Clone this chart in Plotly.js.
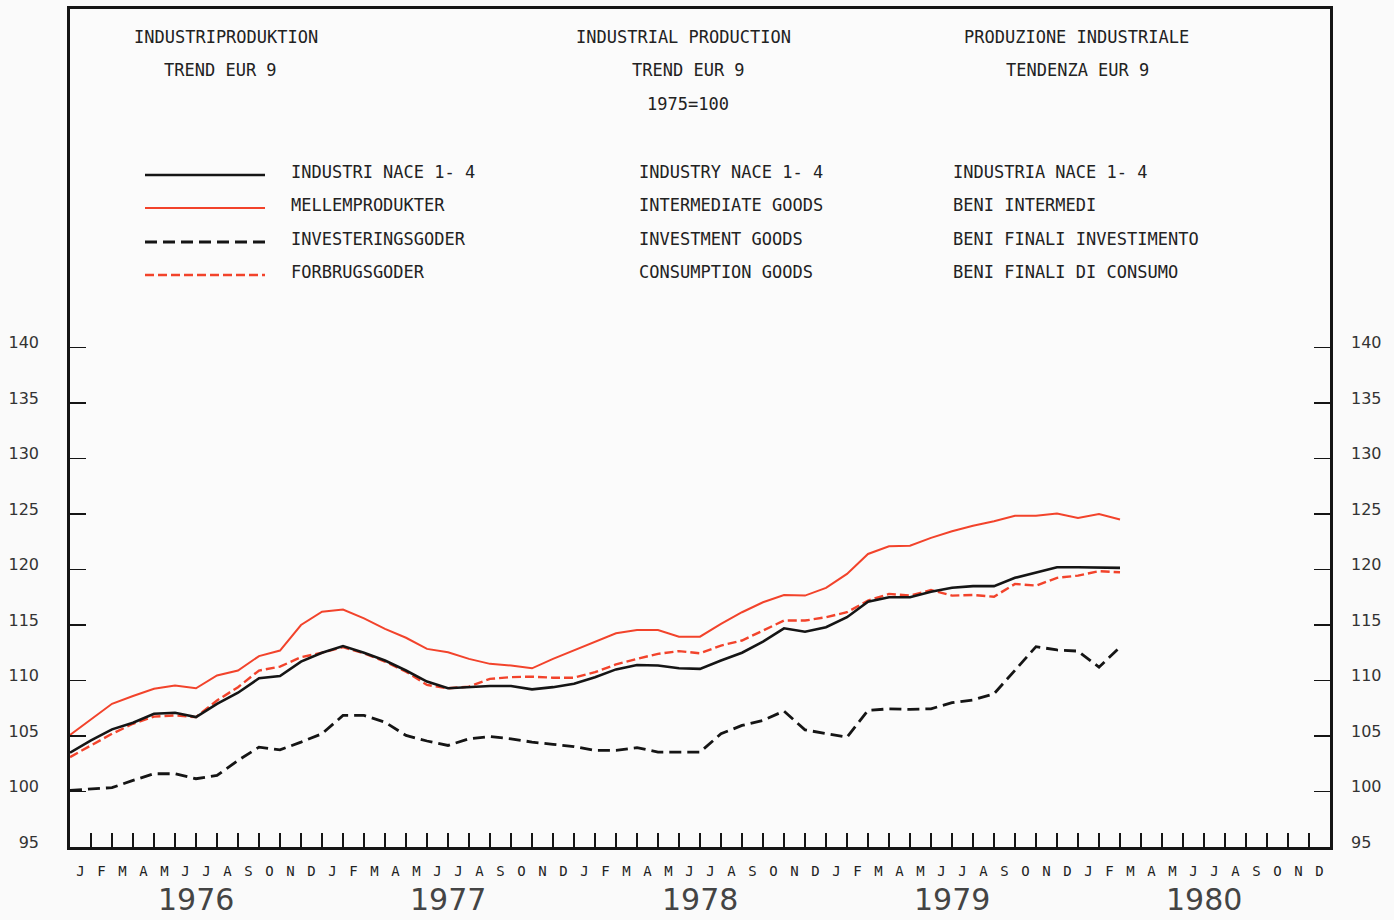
<!DOCTYPE html>
<html>
<head>
<meta charset="utf-8">
<script src="https://cdn.plot.ly/plotly-3.0.1.min.js"></script>
<style>
  html, body { margin: 0; padding: 0; background: #fafafa; }
  #chart { width: 1394px; height: 920px; }
</style>
</head>
<body>
<div id="chart"></div>
<script>
// ---------- DATA ----------
const periods = [
  '1976-01','1976-02','1976-03','1976-04','1976-05','1976-06','1976-07','1976-08','1976-09','1976-10','1976-11','1976-12',
  '1977-01','1977-02','1977-03','1977-04','1977-05','1977-06','1977-07','1977-08','1977-09','1977-10','1977-11','1977-12',
  '1978-01','1978-02','1978-03','1978-04','1978-05','1978-06','1978-07','1978-08','1978-09','1978-10','1978-11','1978-12',
  '1979-01','1979-02','1979-03','1979-04','1979-05','1979-06','1979-07','1979-08','1979-09','1979-10','1979-11','1979-12',
  '1980-01','1980-02','1980-03'
];
const industry = [103.5,104.6,105.6,106.2,107.0,107.1,106.7,107.9,108.9,110.2,110.4,111.7,
  112.5,113.1,112.5,111.8,110.9,109.9,109.3,109.4,109.5,109.5,109.2,109.4,
  109.7,110.3,111.0,111.4,111.35,111.1,111.05,111.8,112.5,113.5,114.7,114.4,
  114.8,115.7,117.1,117.5,117.5,118.0,118.35,118.5,118.5,119.25,119.75,120.2,
  120.2,120.2,120.15];
const intermediate = [105.1,106.5,107.9,108.6,109.25,109.55,109.3,110.45,110.9,112.2,112.7,115.0,
  116.2,116.4,115.6,114.65,113.85,112.85,112.55,111.95,111.5,111.35,111.1,111.95,
  112.7,113.45,114.25,114.55,114.55,113.95,113.95,115.1,116.15,117.05,117.7,117.65,
  118.35,119.6,121.4,122.1,122.15,122.85,123.45,123.95,124.35,124.85,124.85,125.05,
  124.65,125.0,124.5];
const investment = [100.1,100.25,100.35,101.0,101.6,101.6,101.15,101.45,102.8,104.0,103.75,104.45,
  105.2,106.85,106.85,106.25,105.05,104.55,104.15,104.75,104.95,104.75,104.45,104.25,
  104.05,103.7,103.7,103.95,103.55,103.55,103.55,105.2,105.95,106.4,107.25,105.55,
  105.2,104.9,107.3,107.45,107.4,107.45,108.0,108.25,108.8,110.9,113.05,112.75,
  112.65,111.2,113.0];
const consumption = [103.1,104.15,105.2,106.1,106.75,106.85,106.7,108.2,109.4,110.9,111.25,112.1,
  112.5,113.0,112.45,111.7,110.8,109.6,109.3,109.45,110.15,110.3,110.35,110.25,
  110.25,110.75,111.45,111.95,112.4,112.65,112.45,113.15,113.6,114.5,115.4,115.4,
  115.7,116.15,117.2,117.8,117.65,118.15,117.65,117.7,117.55,118.7,118.55,119.25,
  119.45,119.85,119.75];

const monthLetters = ['J','F','M','A','M','J','J','A','S','O','N','D'];
const years = ['1976','1977','1978','1979','1980'];
const yTicks = [95,100,105,110,115,120,125,130,135,140];

const titlesDA = ['INDUSTRIPRODUKTION','TREND EUR 9'];
const titlesEN = ['INDUSTRIAL PRODUCTION','TREND EUR 9','1975=100'];
const titlesIT = ['PRODUZIONE INDUSTRIALE','TENDENZA EUR 9'];
const namesDA = ['INDUSTRI NACE 1- 4','MELLEMPRODUKTER','INVESTERINGSGODER','FORBRUGSGODER'];
const namesEN = ['INDUSTRY NACE 1- 4','INTERMEDIATE GOODS','INVESTMENT GOODS','CONSUMPTION GOODS'];
const namesIT = ['INDUSTRIA NACE 1- 4','BENI INTERMEDI','BENI FINALI INVESTIMENTO','BENI FINALI DI CONSUMO'];

// ---------- HELPERS ----------
const baseYear = Number(years[0]);
function periodIndex(p) {
  const [y, m] = p.split('-').map(Number);
  return (y - baseYear) * 12 + (m - 1);
}
const xs = periods.map(periodIndex);
const nMonths = years.length * monthLetters.length;

// plot-area geometry in pixels (for placing header texts)
const W = 1394, H = 920;
const M = {l: 70, r: 64, t: 9, b: 73};
const PW = W - M.l - M.r, PH = H - M.t - M.b;
const px = x => (x - M.l) / PW;
const py = y => (H - M.b - y) / PH;

const BLACK = '#151515';
const RED = '#f2432b';
const styles = [
  {color: BLACK, width: 2.6, dash: 'solid'},
  {color: RED, width: 2.0, dash: 'solid'},
  {color: BLACK, width: 2.8, dash: '12px,6px'},
  {color: RED, width: 2.4, dash: '9px,4px'}
];
const series = [industry, intermediate, investment, consumption];

// ---------- TRACES ----------
const order = [1, 3, 2, 0];
const traces = order.map(i => ({
  type: 'scatter', mode: 'lines',
  x: xs, y: series[i], name: namesEN[i],
  line: {color: styles[i].color, width: styles[i].width, dash: styles[i].dash},
  xaxis: 'x', yaxis: 'y', hoverinfo: 'skip'
}));
// invisible carriers for the auxiliary axes
[['x', 'y2'], ['x2', 'y'], ['x', 'y3'], ['x', 'y4']].forEach(([xa, ya]) => {
  traces.push({type: 'scatter', mode: 'lines', x: [xs[0]], y: [industry[0]], xaxis: xa, yaxis: ya,
    showlegend: false, line: {width: 0}, hoverinfo: 'skip'});
});

// ---------- AXES ----------
const monthTickVals = [], monthTickText = [], boundaryTicks = [];
for (let k = 0; k < nMonths; k++) {
  monthTickVals.push(k + 0.5);
  monthTickText.push(monthLetters[k % 12]);
  if (k > 0) boundaryTicks.push(k);
}
const pxPerUnit = 11.1;
const yRange = [95, 95 + PH / pxPerUnit];
const labelShift = 5 / pxPerUnit;  // labels sit a little above their ticks
const labelRange = [yRange[0] - labelShift, yRange[1] - labelShift];

const tickFont = {family: 'DejaVu Sans', size: 16, color: '#333'};
const annotations = [];
const monoFont = {family: 'DejaVu Sans Mono', size: 17, color: '#222'};
function addText(t, x, y, anchor) {
  annotations.push({text: t, xref: 'paper', yref: 'paper', x: px(x), y: py(y),
    xanchor: anchor, yanchor: 'middle', showarrow: false, font: monoFont});
}
addText(titlesDA[0], 226, 37, 'center');
addText(titlesDA[1], 220, 70, 'center');
addText(titlesEN[0], 683, 37, 'center');
addText(titlesEN[1], 688, 70, 'center');
addText(titlesEN[2], 688, 104, 'center');
addText(titlesIT[0], 1076, 37, 'center');
addText(titlesIT[1], 1077, 70, 'center');

const rowY = [172, 205, 239, 272];
const shapes = [];
rowY.forEach((y, i) => {
  addText(namesDA[i], 289, y, 'left');
  addText(namesEN[i], 637, y, 'left');
  addText(namesIT[i], 951, y, 'left');
  shapes.push({type: 'line', xref: 'paper', yref: 'paper',
    x0: px(145), x1: px(265), y0: py(y + 3), y1: py(y + 3),
    line: {color: styles[i].color, width: styles[i].width, dash: styles[i].dash}});
});

years.forEach((yr, i) => {
  annotations.push({text: yr, xref: 'x', yref: 'paper', x: i * 12 + 6, y: py(900),
    xanchor: 'center', yanchor: 'middle', showarrow: false,
    font: {family: 'DejaVu Sans', size: 30, color: '#444'}});
});

const tickAxis = side => ({
  range: yRange, overlaying: side === 'right' ? 'y' : undefined, side: side, anchor: 'x',
  showgrid: false, zeroline: false,
  tickmode: 'array', tickvals: yTicks.slice(1), ticktext: yTicks.slice(1).map(() => ''),
  ticks: 'inside', ticklen: 16, tickwidth: 1.5, tickcolor: BLACK, showticklabels: false
});
const labelAxis = (side, standoff) => ({
  range: labelRange, overlaying: 'y', side: side, anchor: 'x',
  showgrid: false, zeroline: false, showline: false,
  tickmode: 'array', tickvals: yTicks, ticktext: yTicks.map(String),
  ticks: '', tickfont: tickFont, ticklabelstandoff: standoff
});

const yMain = tickAxis('left');
delete yMain.overlaying;
Object.assign(yMain, {showline: true, linecolor: BLACK, linewidth: 3, mirror: true});
const yRight = tickAxis('right');
yRight.showline = false;

const layout = {
  width: W, height: H,
  margin: M,
  paper_bgcolor: '#fafafa', plot_bgcolor: '#fbfbfb',
  showlegend: false,
  xaxis: {
    range: [0, nMonths], showgrid: false, zeroline: false,
    tickmode: 'array', tickvals: monthTickVals, ticktext: monthTickText,
    ticks: '', tickfont: {family: 'DejaVu Sans Mono', size: 14, color: '#222'},
    ticklabelstandoff: 9,
    showline: true, linecolor: BLACK, linewidth: 3, mirror: true
  },
  xaxis2: {
    range: [0, nMonths], overlaying: 'x', anchor: 'y', side: 'bottom',
    showgrid: false, zeroline: false, showline: false,
    tickmode: 'array', tickvals: boundaryTicks, ticktext: boundaryTicks.map(() => ''),
    ticks: 'inside', ticklen: 14, tickwidth: 2, tickcolor: BLACK, showticklabels: false
  },
  yaxis: yMain,
  yaxis2: yRight,
  yaxis3: labelAxis('left', 30),
  yaxis4: labelAxis('right', 20),
  annotations: annotations,
  shapes: shapes
};

Plotly.newPlot('chart', traces, layout, {displayModeBar: false, staticPlot: true});
</script>
</body>
</html>
